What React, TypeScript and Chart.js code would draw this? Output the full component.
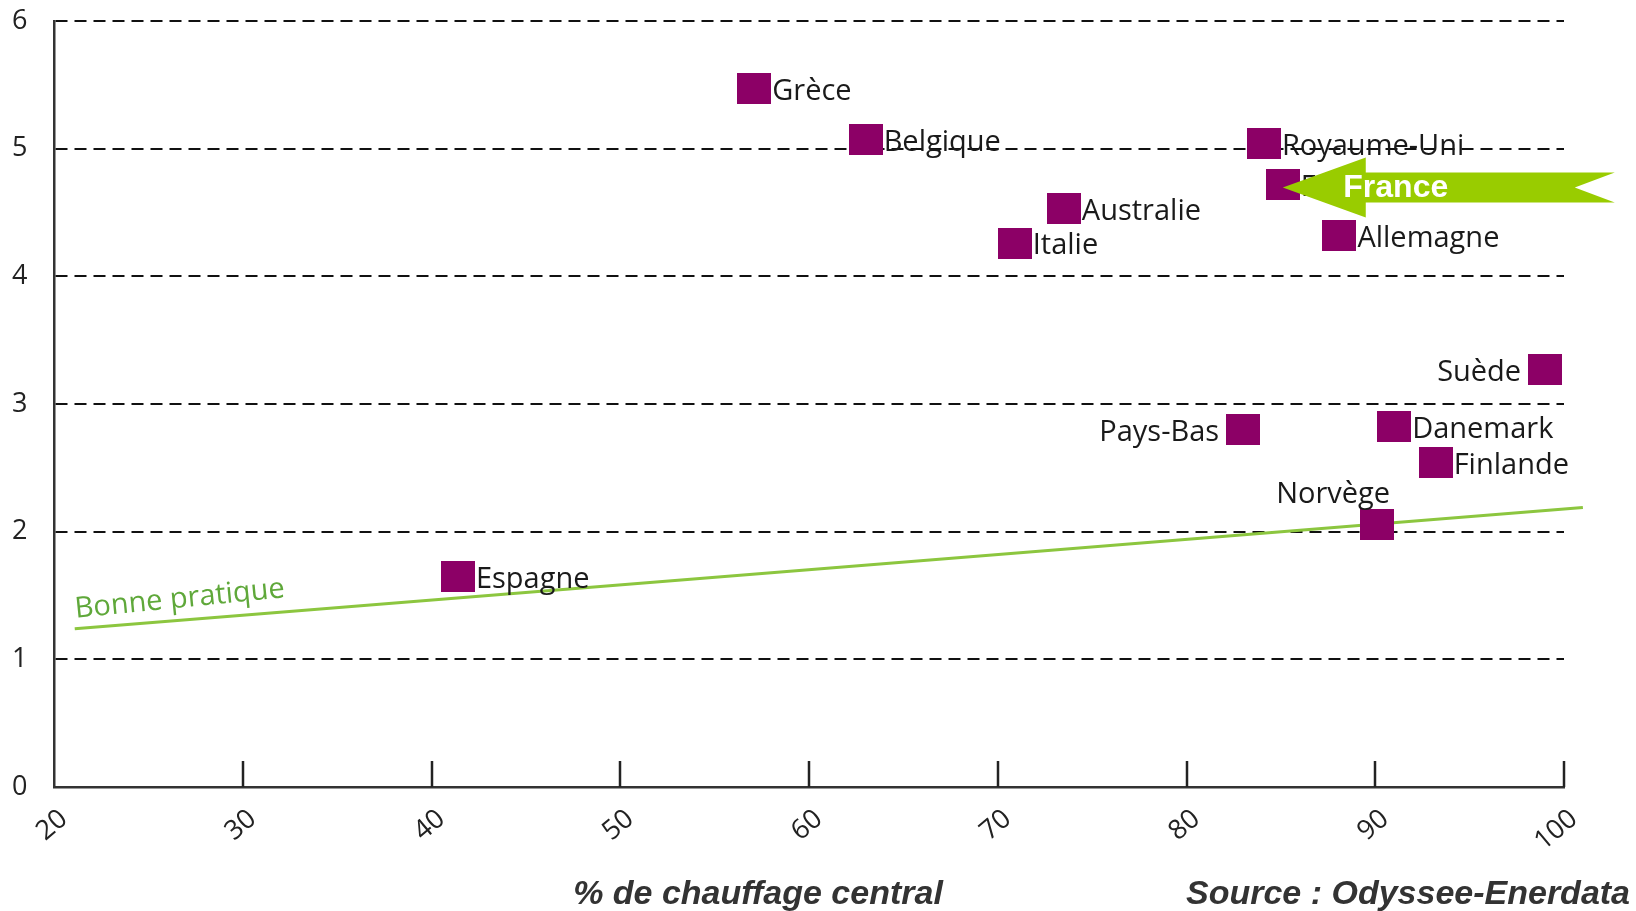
import React, { useEffect, useRef } from "react";
import { Chart, registerables } from "chart.js";

Chart.register(...registerables);

// ---- data ----
const countries = [
  "Grèce", "Belgique", "Royaume-Uni", "France", "Australie", "Italie", "Allemagne",
  "Suède", "Pays-Bas", "Danemark", "Finlande", "Norvège", "Espagne",
];
const centralHeatingShare = [57.1, 63.0, 84.1, 85.1, 73.5, 70.9, 88.1, 99.0, 83.0, 91.0, 93.2, 90.1, 41.4];
const indicatorValues = [5.47, 5.07, 5.04, 4.72, 4.53, 4.26, 4.32, 3.27, 2.80, 2.82, 2.54, 2.06, 1.65];
const labelSide = ["right", "right", "right", "right", "right", "right", "right", "left", "left", "right", "right", "above", "right"];
const goodPracticeX = [21.1, 101];
const goodPracticeY = [1.24, 2.19];
const goodPracticeLabel = "Bonne pratique";
const xTickValues = [20, 30, 40, 50, 60, 70, 80, 90, 100];
const yTickValues = [0, 1, 2, 3, 4, 5, 6];
const highlighted = "France";
const xTitle = "% de chauffage central";
const sourceText = "Source : Odyssee-Enerdata";

const PURPLE = "#8c0066";
const GREEN_LINE = "#8cc63f";
const GREEN_TEXT = "#5fa83a";
const ARROW = "#99cc00";
const SQ_W = 34;
const SQ_H = 31;

export default function App() {
  const ref = useRef<HTMLCanvasElement | null>(null);

  useEffect(() => {
    const canvas = ref.current;
    if (!canvas) return;

    const sq = document.createElement("canvas");
    sq.width = SQ_W;
    sq.height = SQ_H;
    const sctx = sq.getContext("2d")!;
    sctx.fillStyle = PURPLE;
    sctx.fillRect(0, 0, SQ_W, SQ_H);

    const overlay = {
      id: "overlay",
      afterDatasetsDraw(chart: any) {
        const ctx = chart.ctx as CanvasRenderingContext2D;
        const xs = chart.scales.x;
        const ys = chart.scales.y;
        ctx.save();

        // inward x tick marks
        const bottom = ys.getPixelForValue(0);
        ctx.strokeStyle = "#222";
        ctx.lineWidth = 2.5;
        xTickValues.forEach((v) => {
          if (v === xTickValues[0]) return;
          const px = Math.round(xs.getPixelForValue(v));
          ctx.beginPath();
          ctx.moveTo(px, bottom);
          ctx.lineTo(px, bottom - 26);
          ctx.stroke();
        });

        // country labels
        ctx.font = '29px "Open Sans"';
        ctx.fillStyle = "#1a1a1a";
        ctx.textBaseline = "middle";
        countries.forEach((name, i) => {
          const px = xs.getPixelForValue(centralHeatingShare[i]);
          const py = ys.getPixelForValue(indicatorValues[i]);
          const side = labelSide[i];
          if (side === "right") {
            ctx.textAlign = "left";
            ctx.fillText(name, px + SQ_W / 2 + 1, py + 3);
          } else if (side === "left") {
            ctx.textAlign = "right";
            ctx.fillText(name, px - SQ_W / 2 - 7, py + 3);
          } else {
            ctx.textAlign = "right";
            ctx.fillText(name, px + SQ_W / 2 - 4, py - SQ_H / 2 - 14);
          }
        });

        // good practice label
        const p1x = xs.getPixelForValue(goodPracticeX[0]);
        const p1y = ys.getPixelForValue(goodPracticeY[0]);
        const p2x = xs.getPixelForValue(goodPracticeX[1]);
        const p2y = ys.getPixelForValue(goodPracticeY[1]);
        const ang = Math.atan2(p2y - p1y, p2x - p1x) - (1 * Math.PI) / 180;
        ctx.save();
        ctx.translate(p1x + 2, p1y);
        ctx.rotate(ang);
        ctx.font = '29px "Open Sans"';
        ctx.fillStyle = GREEN_TEXT;
        ctx.textAlign = "left";
        ctx.textBaseline = "alphabetic";
        ctx.fillText(goodPracticeLabel, 0, -11);
        ctx.restore();

        // France arrow
        const fi = countries.indexOf(highlighted);
        const fx = xs.getPixelForValue(centralHeatingShare[fi]);
        const fy = ys.getPixelForValue(indicatorValues[fi]) + 3;
        ctx.fillStyle = ARROW;
        ctx.beginPath();
        ctx.moveTo(fx, fy);
        ctx.lineTo(fx + 83, fy - 30);
        ctx.lineTo(fx + 83, fy - 15);
        ctx.lineTo(fx + 332, fy - 15);
        ctx.lineTo(fx + 292, fy);
        ctx.lineTo(fx + 332, fy + 15);
        ctx.lineTo(fx + 83, fy + 15);
        ctx.lineTo(fx + 83, fy + 30);
        ctx.closePath();
        ctx.fill();
        ctx.fillStyle = "#ffffff";
        ctx.font = 'bold 32px "Liberation Sans"';
        ctx.textAlign = "center";
        ctx.textBaseline = "middle";
        ctx.fillText(highlighted, fx + 113, fy + 1);

        // bottom texts
        ctx.fillStyle = "#333";
        ctx.font = 'italic bold 34px "Liberation Sans"';
        ctx.textAlign = "center";
        ctx.textBaseline = "middle";
        ctx.fillText(xTitle, 758, 895);
        ctx.fillText(sourceText, 1408, 895);

        ctx.restore();
      },
    };

    const chart = new Chart(canvas, {
      type: "scatter",
      data: {
        datasets: [
          {
            label: "Pays",
            data: countries.map((_, i) => ({ x: centralHeatingShare[i], y: indicatorValues[i] })),
            pointStyle: sq as any,
            pointRadius: 16,
            backgroundColor: PURPLE,
            borderColor: PURPLE,
          },
          {
            label: goodPracticeLabel,
            data: goodPracticeX.map((x, i) => ({ x, y: goodPracticeY[i] })),
            showLine: true,
            borderColor: GREEN_LINE,
            borderWidth: 3,
            pointRadius: 0,
            clip: false as any,
          } as any,
        ],
      },
      options: {
        animation: false,
        responsive: false,
        devicePixelRatio: 1,
        layout: { padding: { top: 21, right: 72, left: 12, bottom: 0 } },
        plugins: { legend: { display: false }, tooltip: { enabled: false } },
        scales: {
          x: {
            type: "linear",
            min: 20,
            max: 100,
            afterFit: (s: any) => { s.height = 124; },
            afterBuildTicks: (s: any) => { s.ticks = xTickValues.map((v) => ({ value: v })); },
            ticks: {
              minRotation: 40,
              maxRotation: 40,
              padding: 16,
              labelOffset: 10,
              color: "#222",
              font: { family: "Open Sans", size: 27 },
            },
            grid: { display: false, drawTicks: false },
            border: { display: true, color: "#333", width: 2.5 },
          },
          y: {
            type: "linear",
            min: 0,
            max: 6,
            afterFit: (s: any) => { s.width = 42; },
            afterBuildTicks: (s: any) => { s.ticks = yTickValues.map((v) => ({ value: v })); },
            ticks: {
              padding: 0,
              crossAlign: "far",
              color: "#222",
              font: { family: "Open Sans", size: 27 },
            },
            grid: {
              color: (c: any) => (c.tick && c.tick.value === 0 ? "rgba(0,0,0,0)" : "#111"),
              lineWidth: 2,
              drawTicks: false,
            },
            border: { display: true, color: "#333", width: 2.5, dash: [12, 7] },
          },
        },
      },
      plugins: [overlay],
    });

    return () => chart.destroy();
  }, []);

  return (
    <div style={{ position: "absolute", left: 0, top: 0, width: 1636, height: 911, background: "#fff" }}>
      <canvas ref={ref} width={1636} height={911} style={{ width: 1636, height: 911, display: "block" }} />
    </div>
  );
}
